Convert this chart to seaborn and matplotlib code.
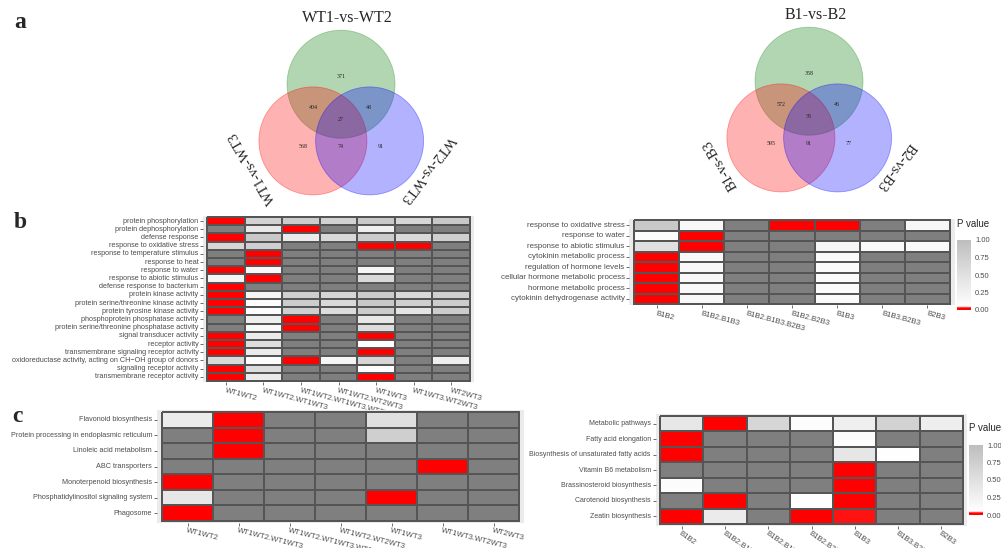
import matplotlib
matplotlib.use("Agg")
import matplotlib.pyplot as plt
import matplotlib.transforms as mtransforms
import numpy as np
import pandas as pd
import seaborn as sns
from matplotlib.colors import LinearSegmentedColormap
from matplotlib.patches import Circle

sns.set_theme(style="white")
plt.rcParams["font.family"] = ["Liberation Sans", "DejaVu Sans"]

W, H = 1001, 548
NA = np.nan

# ---- panel a: venn counts (only1, 1&2, 1&3, all, only2, 2&3, only3)
WT_SETS = ["WT1-vs-WT2", "WT1-vs-WT3", "WT2-vs-WT3"]
WT_COUNTS = [371, 404, 48, 27, 568, 74, 91]
B_SETS = ["B1-vs-B2", "B1-vs-B3", "B2-vs-B3"]
B_COUNTS = [358, 572, 46, 35, 595, 91, 77]

# ---- panels b / c: enrichment p values (NaN = term not present)
WT_COLS = ["WT1WT2", "WT1WT2.WT1WT3", "WT1WT2.WT1WT3.WT2WT3", "WT1WT2.WT2WT3",
           "WT1WT3", "WT1WT3.WT2WT3", "WT2WT3"]
B_COLS = ["B1B2", "B1B2.B1B3", "B1B2.B1B3.B2B3", "B1B2.B2B3",
          "B1B3", "B1B3.B2B3", "B2B3"]

GO_WT_TERMS = [
    "protein phosphorylation", "protein dephosphorylation", "defense response",
    "response to oxidative stress", "response to temperature stimulus", "response to heat",
    "response to water", "response to abiotic stimulus", "defense response to bacterium",
    "protein kinase activity", "protein serine/threonine kinase activity",
    "protein tyrosine kinase activity", "phosphoprotein phosphatase activity",
    "protein serine/threonine phosphatase activity", "signal transducer activity",
    "receptor activity", "transmembrane signaling receptor activity",
    "oxidoreductase activity, acting on CH\u2212OH group of donors",
    "signaling receptor activity", "transmembrane receptor activity",
]
GO_WT_P = [
    [0.00, 0.70, 0.80, 0.70, 0.85, 0.65, 0.85],
    [NA, 0.40, 0.00, NA, 0.30, NA, NA],
    [0.00, 0.85, 0.35, 0.60, 0.80, 0.60, 0.75],
    [0.65, 0.75, NA, NA, 0.00, 0.00, NA],
    [NA, 0.00, NA, NA, NA, NA, NA],
    [NA, 0.00, NA, NA, NA, NA, NA],
    [0.00, 0.15, NA, NA, 0.20, NA, NA],
    [0.20, 0.00, NA, NA, 0.60, NA, NA],
    [0.00, NA, NA, NA, NA, NA, NA],
    [0.00, 0.20, 0.75, 0.65, 0.80, 0.60, 0.75],
    [0.00, 0.10, 0.80, 0.60, 0.85, 0.75, 0.80],
    [0.00, 0.10, 0.75, 0.55, 0.80, 0.45, 0.80],
    [NA, 0.30, 0.00, NA, 0.40, NA, NA],
    [NA, 0.15, 0.00, NA, 0.55, NA, NA],
    [0.00, 0.35, NA, NA, 0.00, NA, NA],
    [0.00, 0.55, NA, NA, 0.08, NA, NA],
    [0.00, 0.35, NA, NA, 0.00, NA, NA],
    [0.60, 0.10, 0.00, 0.20, 0.65, NA, 0.30],
    [0.00, 0.55, NA, NA, 0.10, NA, NA],
    [0.00, 0.35, NA, NA, 0.00, NA, NA],
]

GO_B_TERMS = [
    "response to oxidative stress", "response to water", "response to abiotic stimulus",
    "cytokinin metabolic process", "regulation of hormone levels",
    "cellular hormone metabolic process", "hormone metabolic process",
    "cytokinin dehydrogenase activity",
]
GO_B_P = [
    [0.85, 0.15, NA, 0.00, 0.00, NA, 0.18],
    [0.10, 0.00, NA, NA, NA, NA, NA],
    [0.50, 0.00, NA, NA, 0.20, 0.12, 0.12],
    [0.00, 0.15, NA, NA, 0.12, NA, NA],
    [0.00, 0.15, NA, NA, 0.12, NA, NA],
    [0.00, 0.15, NA, NA, 0.12, NA, NA],
    [0.00, 0.15, NA, NA, 0.12, NA, NA],
    [0.00, 0.15, NA, NA, 0.12, NA, NA],
]

KEGG_WT_TERMS = [
    "Flavonoid biosynthesis", "Protein processing in endoplasmic reticulum",
    "Linoleic acid metabolism", "ABC transporters", "Monoterpenoid biosynthesis",
    "Phosphatidylinositol signaling system", "Phagosome",
]
KEGG_WT_P = [
    [0.35, 0.00, NA, NA, 0.50, NA, NA],
    [NA, 0.00, NA, NA, 0.75, NA, NA],
    [NA, 0.00, NA, NA, NA, NA, NA],
    [NA, NA, NA, NA, NA, 0.00, NA],
    [0.00, NA, NA, NA, NA, NA, NA],
    [0.40, NA, NA, NA, 0.00, NA, NA],
    [0.00, NA, NA, NA, NA, NA, NA],
]

KEGG_B_TERMS = [
    "Metabolic pathways", "Fatty acid elongation",
    "Biosynthesis of unsaturated fatty acids", "Vitamin B6 metabolism",
    "Brassinosteroid biosynthesis", "Carotenoid biosynthesis", "Zeatin biosynthesis",
]
KEGG_B_P = [
    [0.40, 0.00, 0.65, 0.10, 0.28, 0.70, 0.30],
    [0.00, NA, NA, NA, 0.10, NA, NA],
    [0.00, NA, NA, NA, 0.42, 0.06, NA],
    [NA, NA, NA, NA, 0.00, NA, NA],
    [0.10, NA, NA, NA, 0.00, NA, NA],
    [NA, 0.00, NA, 0.06, 0.00, NA, NA],
    [0.00, 0.35, NA, 0.00, 0.035, NA, NA],
]

PCMAP = LinearSegmentedColormap.from_list(
    "pval", [(0.0, "#ff0000"), (0.03, "#ff0000"), (0.05, "#ffffff"), (1.0, "#bebebe")]
)
PCMAP.set_bad("#7f7f7f")

TICK_GREY = "#4d4d4d"


def px_axes(fig, x0, y0, x1, y1):
    return fig.add_axes([x0 / W, 1 - y1 / H, (x1 - x0) / W, (y1 - y0) / H])


def draw_venn(ax, cx, cy, r, sets, counts):
    centers = [(cx, cy - 0.70 * r), (cx - 0.52 * r, cy + 0.35 * r), (cx + 0.53 * r, cy + 0.35 * r)]
    fills = [("#228b22", 0.35), ("#ff0000", 0.30), ("#0000ff", 0.30)]
    for (x, y), (col, a) in zip(centers, fills):
        ax.add_patch(Circle((x, y), r, facecolor=col, alpha=a, edgecolor="none"))
        ax.add_patch(Circle((x, y), r, facecolor="none", edgecolor=col, alpha=0.35, lw=0.6))

    spots = [(0, -0.85), (-0.52, -0.26), (0.52, -0.26), (0, -0.04),
             (-0.70, 0.46), (0, 0.46), (0.74, 0.46)]
    for n, (ox, oy) in zip(counts, spots):
        ax.text(cx + ox * r, cy + oy * r, str(n), fontsize=4.3, ha="center", va="center",
                family="Liberation Serif", color="#222222")

    ax.text(cx + 0.12 * r, cy - 1.92 * r, sets[0], fontsize=11.5, ha="center", va="center",
            family="Liberation Serif")
    ax.text(cx - 1.63 * r, cy + 0.85 * r, sets[1], fontsize=10.3, ha="center", va="center",
            family="Liberation Serif", rotation=120)
    ax.text(cx + 1.6 * r, cy + 0.87 * r, sets[2], fontsize=10.3, ha="center", va="center",
            family="Liberation Serif", rotation=233)


def draw_heatmap(fig, box, terms, cols, pvals, rot, shift, fs_y=5.2, fs_x=5.6):
    x0, y0, x1, y1 = box
    nx, ny = len(cols), len(terms)
    padx = (x1 - x0) / nx * 0.1
    pady = (y1 - y0) / ny * 0.1
    ax = px_axes(fig, x0 - padx, y0 - pady, x1 + padx, y1 + pady)
    df = pd.DataFrame(pvals, index=terms, columns=cols)
    sns.heatmap(df, ax=ax, cmap=PCMAP, vmin=0, vmax=1, cbar=False,
                linewidths=0.35, linecolor="#555555")
    ax.set_facecolor("#ebebeb")
    ax.set_xlim(-0.1, nx + 0.1)
    ax.set_ylim(ny + 0.1, -0.1)

    ax.set_yticks(np.arange(ny) + 0.5)
    ax.set_yticklabels(terms, fontsize=fs_y, color=TICK_GREY, rotation=0)
    ax.set_xticks(np.arange(nx) + 0.5)
    ax.set_xticklabels(cols, fontsize=fs_x, color=TICK_GREY, rotation=rot,
                       ha="left", va="top", rotation_mode="anchor")
    off = mtransforms.ScaledTranslation(shift / 100, 0, fig.dpi_scale_trans)
    for lab in ax.get_xticklabels():
        lab.set_transform(lab.get_transform() + off)
    ax.tick_params(bottom=True, left=True, length=2, width=0.5, color="#333333", pad=1.5)
    ax.set_xlabel("")
    ax.set_ylabel("")
    return ax


def draw_pbar(fig, ax, x, y_top, title_y):
    cax = px_axes(fig, x, y_top, x + 14, y_top + 70)
    cb = fig.colorbar(ax.collections[0], cax=cax)
    cb.outline.set_visible(False)
    cb.set_ticks([0, 0.25, 0.5, 0.75, 1.0])
    cb.set_ticklabels(["0.00", "0.25", "0.50", "0.75", "1.00"])
    cax.tick_params(length=0, labelsize=5.5, labelcolor=TICK_GREY, pad=3)
    fig.text(x / W, 1 - title_y / H, "P value", fontsize=7, va="center", ha="left")


def main() -> None:
    fig = plt.figure(figsize=(W / 100, H / 100), dpi=100)
    bg = fig.add_axes([0, 0, 1, 1])
    bg.set_xlim(0, W)
    bg.set_ylim(H, 0)
    bg.set_aspect("equal")
    bg.axis("off")

    draw_venn(bg, 341, 122, 54, WT_SETS, WT_COUNTS)
    draw_venn(bg, 809, 119, 54, B_SETS, B_COUNTS)

    for letter, (x, y) in zip("abc", [(20, 22), (20, 222), (17, 416)]):
        bg.text(x, y, letter, fontsize=17, fontweight="bold", family="Liberation Serif",
                ha="center", va="center")

    draw_heatmap(fig, (207, 217, 470, 381), GO_WT_TERMS, WT_COLS, GO_WT_P, -15, -17, fs_y=5.2)
    ax_gb = draw_heatmap(fig, (634, 220, 950, 304), GO_B_TERMS, B_COLS, GO_B_P, -15, -12, fs_y=5.7)
    draw_pbar(fig, ax_gb, 957, 240, 224)

    draw_heatmap(fig, (162, 412, 519, 521), KEGG_WT_TERMS, WT_COLS, KEGG_WT_P, -14, -15, fs_y=5.2)
    ax_kb = draw_heatmap(fig, (660, 416, 963, 524), KEGG_B_TERMS, B_COLS, KEGG_B_P, -35, -9, fs_y=5.0)
    draw_pbar(fig, ax_kb, 969, 445, 428)

    fig.savefig("out.png", dpi=100)
    plt.close(fig)


if __name__ == "__main__":
    main()
